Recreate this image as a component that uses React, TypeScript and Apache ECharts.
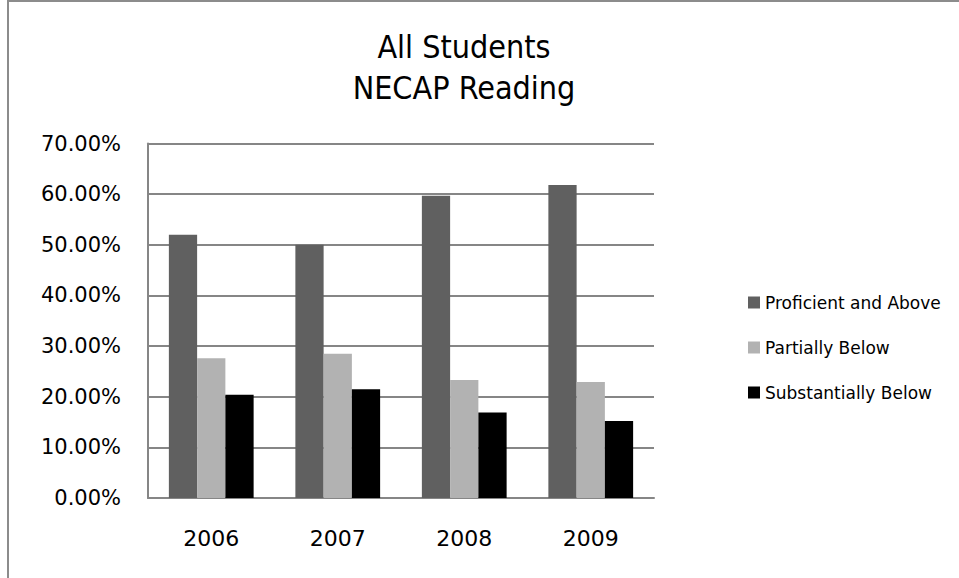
import React, { useEffect, useRef } from "react";
import * as echarts from "echarts";

const years = ["2006", "2007", "2008", "2009"];
const proficient = [52.0, 50.0, 59.7, 61.8];
const partially = [27.6, 28.5, 23.3, 22.9];
const substantially = [20.4, 21.5, 16.9, 15.2];
const seriesNames = ["Proficient and Above", "Partially Below", "Substantially Below"];
const colors = ["#606060", "#b2b2b2", "#000000"];
const titleLines = ["All Students", "NECAP Reading"];

export default function App() {
  const ref = useRef<HTMLDivElement>(null);
  useEffect(() => {
    if (!ref.current) return;
    const chart = echarts.init(ref.current, null, { renderer: "svg" });
    const labelFont = "'DejaVu Sans', sans-serif";
    const titleFont = "'DejaVu Sans Condensed', 'DejaVu Sans', sans-serif";
    chart.setOption({
      animation: false,
      backgroundColor: "#ffffff",
      graphic: [
        {
          type: "rect",
          shape: { x: 8, y: 1, width: 1000, height: 1000 },
          style: { fill: "none", stroke: "#8c8c8c", lineWidth: 2 },
          silent: true,
        },
        {
          type: "text",
          x: 464,
          y: 47,
          style: {
            text: titleLines[0],
            fontFamily: titleFont,
            fontSize: 32,
            fill: "#000000",
            textAlign: "center",
            textVerticalAlign: "middle",
          },
        },
        {
          type: "text",
          x: 464,
          y: 88,
          style: {
            text: titleLines[1],
            fontFamily: titleFont,
            fontSize: 32,
            fill: "#000000",
            textAlign: "center",
            textVerticalAlign: "middle",
          },
        },
      ],
      legend: {
        orient: "vertical",
        left: 748,
        top: 294,
        padding: 0,
        itemWidth: 12,
        itemHeight: 12,
        itemGap: 28,
        icon: "rect",
        data: seriesNames,
        textStyle: { fontFamily: labelFont, fontSize: 17, color: "#000000" },
      },
      grid: { left: 148, right: 305, top: 143.6, bottom: 80, containLabel: false },
      xAxis: {
        type: "category",
        data: years,
        axisLine: { lineStyle: { color: "#868686", width: 2 } },
        axisTick: { show: false },
        axisLabel: { margin: 29, fontFamily: labelFont, fontSize: 22, color: "#000000" },
      },
      yAxis: {
        type: "value",
        min: 0,
        max: 70,
        interval: 10,
        axisLine: { show: true, lineStyle: { color: "#868686", width: 2 } },
        axisTick: { show: false },
        splitLine: { lineStyle: { color: "#868686", width: 2 } },
        axisLabel: {
          margin: 27,
          fontFamily: labelFont,
          fontSize: 21,
          color: "#000000",
          formatter: (v: number) => v.toFixed(2) + "%",
        },
      },
      series: [
        { name: seriesNames[0], type: "bar", data: proficient, itemStyle: { color: colors[0] }, barGap: "0%", barCategoryGap: "33%" },
        { name: seriesNames[1], type: "bar", data: partially, itemStyle: { color: colors[1] }, barGap: "0%", barCategoryGap: "33%" },
        { name: seriesNames[2], type: "bar", data: substantially, itemStyle: { color: colors[2] }, barGap: "0%", barCategoryGap: "33%" },
      ],
    });
    return () => chart.dispose();
  }, []);
  return (
    <div
      ref={ref}
      style={{ position: "absolute", left: 0, top: 0, width: 959, height: 578 }}
    />
  );
}
